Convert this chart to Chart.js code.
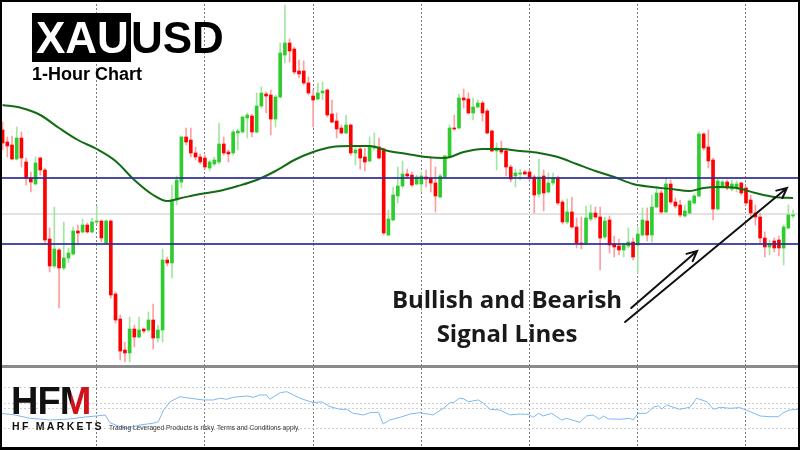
<!DOCTYPE html>
<html>
<head>
<meta charset="utf-8">
<script src="https://cdn.jsdelivr.net/npm/chart.js@4.4.1/dist/chart.umd.min.js"></script>
<style>
  body { margin: 0; background: #fff; }
  #wrap { position: relative; width: 800px; height: 450px; overflow: hidden; background: #fff; font-family: "Liberation Sans", Arial, sans-serif; }
  #main { position: absolute; left: 0; top: 0; }
  #osc { position: absolute; left: 0; top: 368px; }
  #sep { position: absolute; left: 0; top: 365px; width: 800px; height: 3px; background: #8a8a8a; }
  #frame { position: absolute; left: 0; top: 0; width: 800px; height: 450px; box-sizing: border-box; border: 2px solid #000; border-bottom-width: 3px; pointer-events: none; }
  #title { position: absolute; left: 32px; top: 13px; font-weight: bold; font-size: 44px; line-height: 49px; color: #000; white-space: nowrap; }
  #title span { background: #000; color: #fff; padding: 0 2px 0 4px; display: inline-block; }
  #sub { position: absolute; left: 32px; top: 64px; font-weight: bold; font-size: 18px; color: #000; }
  #note { position: absolute; left: 380px; top: 282px; width: 254px; text-align: center; font-family: "Open Sans", sans-serif; font-weight: 700; font-size: 24px; line-height: 34px; color: #1a1a1a; }
  #logo { position: absolute; left: 11px; top: 382px; font-weight: bold; font-size: 38px; line-height: 38px; letter-spacing: -1px; color: #111; }
  #logo b { background: linear-gradient(90deg, #111 0 38%, #d0121b 38% 100%); -webkit-background-clip: text; background-clip: text; color: transparent; }
  #brand { position: absolute; left: 12px; top: 420px; font-weight: bold; font-size: 10.5px; letter-spacing: 2.3px; color: #111; }
  #risk { position: absolute; left: 109px; top: 424px; font-size: 6.6px; color: #333; }
</style>
</head>
<body>
<div id="wrap">
  <canvas id="main" width="800" height="365"></canvas>
  <div id="sep"></div>
  <canvas id="osc" width="800" height="82"></canvas>
  <div id="title"><span>XAU</span>USD</div>
  <div id="sub">1-Hour Chart</div>
  <div id="note">Bullish and Bearish<br>Signal Lines</div>
  <div id="logo">HF<b>M</b></div>
  <div id="brand">HF MARKETS</div>
  <div id="risk">Trading Leveraged Products is risky. Terms and Conditions apply.</div>
  <div id="frame"></div>
</div>
<script>
// hourly candles, price in chart units
const opens = [270,258,255,241,262,238,222,216,242,230, 161,134,150,132,142,146,169,168,175,168,
  178,179,157,179,106,81,50,47,71,63, 71,70,80,62,70,140,137,200,218,263,
  260,247,243,242,232,236,238,256,248,247, 267,268,282,284,268,294,306,305,281,303,
  345,357,351,329,329,317,304,301,307,310, 286,279,272,267,275,247,251,243,239,252,
  253,251,165,180,204,214,226,225,216,216, 223,222,217,203,223,244,272,272,302,301,
  287,293,297,289,269,249,251,249,233,224, 226,228,228,223,206,224,208,217,222,198,
  178,188,173,157,156,181,187,183,163,180, 156,154,150,154,158,155,165,179,165,193,
  207,188,216,198,195,184,187,197,204,266, 253,240,191,214,218,211,212,217,212,200,
  187,183,162,153,159,160,152,172,184];
const highs = [278,263,264,273,268,242,228,243,243,232, 172,193,152,178,152,173,175,181,177,182,
  194,180,180,180,108,85,58,83,75,83, 72,88,96,75,151,143,215,224,264,272,
  272,253,246,245,240,243,277,263,250,270, 271,284,287,286,307,313,308,310,305,357,
  395,361,353,340,339,323,310,317,318,311, 300,287,275,285,276,252,253,252,263,267,
  262,252,190,213,233,239,231,228,225,228, 230,242,233,226,245,275,285,306,311,307,
  302,300,299,291,270,257,259,251,235,231, 231,230,230,225,241,230,227,227,224,200,
  201,203,182,183,194,195,193,193,183,184, 164,161,157,172,162,173,192,192,205,213,
  210,222,220,202,200,195,200,206,268,267, 270,242,221,220,220,220,219,218,214,205,
  195,187,168,160,162,164,175,195,190];
const lows = [250,243,240,240,233,215,208,215,225,157, 128,132,92,130,137,145,155,167,167,167,
  176,158,156,102,77,40,38,38,53,62, 67,68,51,58,58,134,122,195,212,255,
  243,240,236,231,229,234,236,245,238,245, 250,267,262,263,267,292,287,265,273,302,
  337,338,326,322,315,305,273,300,300,283, 277,262,266,266,245,235,231,229,238,250,
  241,165,164,179,197,212,222,213,215,208, 213,208,188,202,222,243,270,271,292,286,
  280,292,279,266,248,230,246,224,218,213, 220,225,220,187,203,189,207,215,195,176,
  176,172,152,151,155,179,181,130,161,147, 143,145,143,152,140,127,164,159,158,192,
  186,187,196,192,183,183,186,196,203,250, 232,180,190,212,210,209,208,205,195,182,
  175,157,143,145,148,144,135,171,182];
const closes = [257,254,241,262,242,222,218,237,230,160, 134,151,132,142,147,169,167,175,168,178,
  179,162,179,105,80,49,47,71,63,70, 69,80,62,70,140,137,200,220,263,258,
  247,243,238,233,238,240,256,247,246,268, 269,283,285,268,294,307,304,281,303,347,
  357,349,328,326,317,307,300,307,309,285, 278,271,267,275,247,250,242,238,253,254,
  242,167,181,205,214,226,224,215,223,224, 221,217,204,224,244,272,271,302,300,287,
  293,297,287,267,249,252,248,233,221,227, 227,226,222,205,223,207,217,222,197,178,
  188,173,157,156,182,187,183,162,179,155, 153,150,155,158,143,166,180,165,193,207,
  188,216,198,194,185,189,199,204,266,252, 239,191,219,218,212,216,216,207,197,187,
  183,162,153,156,152,152,173,185,185];

// moving average sampled at candle index
const maIdx = [0,4,8,12,16,20,24,28,32,35,38,42,46,50,54,58,62,66,70,74,78,82,86,90,94,98,102,106,110,114,118,122,126,130,134,138,142,146,149,152,156,160,164,168];
const maVal = [295,292,285,272,260,251,239,220,205,199,202,206,209,214,220,229,240,248,253,254,254,249,246,243,242,248,251,251,249,247,243,236,229,223,216,213,211,209,212,213,212,207,203,202];

// signal levels
const signalLevels = [222, 156];
const midLevel = 186;

// first candle of each trading day
const dayStarts = [20, 43, 66, 89, 112, 135, 158];

// oscillator panel
const oscIdx = [-0.5,2.6,5.8,10.1,14.3,17.5,20.0,21.8,22.8,25.0,26.4,29.2,32.0,33.1,34.2,35.6,37.7,39.8,42.7,44.8,
  46.2,47.6,49.0,51.9,53.3,54.7,56.1,56.8,59.0,60.4,61.8,63.2,66.0,67.8,69.6,71.7,73.1,74.5,76.7,78.1,
  79.9,80.9,82.3,84.5,86.6,88.7,91.5,93.7,95.1,95.8,97.1,97.9,99.0,101.1,102.2,103.6,105.7,107.8,109.9,111.7,
  112.8,113.9,114.9,116.7,118.8,119.9,122.7,124.1,125.5,126.8,127.7,128.7,131.2,133.3,134.0,135.1,136.9,138.3,139.4,140.1,
  141.1,143.9,146.1,147.5,149.7,151.1,152.5,154.6,156.7,158.9,161.0,163.1,164.9,165.9,167.3,169.5];
const oscVal = [45.3,43.7,40.4,38.8,39.8,41.7,42.7,43.7,36.1,32.2,30.7,33.9,35.6,37.1,48.5,56.6,61.5,60.0,58.3,58.3,
  60.0,59.0,60.9,62.2,60.9,63.2,63.2,59.0,65.4,66.4,63.2,60.0,55.7,56.6,51.8,49.2,49.2,45.3,43.7,45.9,
  46.3,34.9,38.8,41.4,44.6,45.9,43.7,50.2,55.7,55.7,60.0,59.6,56.6,58.3,55.1,49.2,48.5,43.7,44.6,44.3,
  41.4,45.3,42.7,45.3,38.8,40.4,36.5,42.7,43.7,39.5,42.7,39.8,39.5,40.4,38.8,45.3,45.3,51.2,52.7,49.5,
  53.4,49.2,51.2,60.0,56.6,49.2,51.2,50.2,50.8,46.9,42.7,42.0,42.0,45.9,48.5,49.5];
const oscLevels = [70, 55, 50, 30];

// annotation arrows (candle index, price)
const arrowFrom = [[132.3, 78], [133.6, 92]];
const arrowTo = [[166.7, 212], [147.6, 149]];

const X_MIN = -0.553, X_MAX = 169.48;

const idx = opens.map((_, i) => i);
const isUp = idx.map(i => closes[i] >= opens[i]);

const xScale = {
  type: 'linear', min: X_MIN, max: X_MAX, offset: false,
  afterBuildTicks: s => { s.ticks = dayStarts.map(v => ({ value: v })); },
  afterFit: s => { s.height = 0; },
  ticks: { display: false },
  grid: { color: '#7a7a7a', lineWidth: 1, drawTicks: false, offset: false },
  border: { display: false, dash: [2, 2] }
};

const arrowPlugin = {
  id: 'arrows',
  afterDatasetsDraw(chart) {
    const { ctx, scales: { x, y } } = chart;
    ctx.save();
    ctx.strokeStyle = '#111';
    ctx.lineWidth = 2;
    ctx.lineCap = 'round';
    arrowFrom.forEach((a, k) => {
      const x1 = x.getPixelForValue(a[0]), y1 = y.getPixelForValue(a[1]);
      const x2 = x.getPixelForValue(arrowTo[k][0]), y2 = y.getPixelForValue(arrowTo[k][1]);
      const ang = Math.atan2(y2 - y1, x2 - x1);
      ctx.beginPath();
      ctx.moveTo(x1, y1);
      ctx.lineTo(x2, y2);
      ctx.moveTo(x2 - 11 * Math.cos(ang - 0.45), y2 - 11 * Math.sin(ang - 0.45));
      ctx.lineTo(x2, y2);
      ctx.lineTo(x2 - 11 * Math.cos(ang + 0.45), y2 - 11 * Math.sin(ang + 0.45));
      ctx.stroke();
    });
    ctx.restore();
  }
};

new Chart(document.getElementById('main').getContext('2d'), {
  type: 'bar',
  data: {
    datasets: [
      ...signalLevels.map(v => ({
        type: 'line', order: 0,
        data: [{ x: X_MIN, y: v }, { x: X_MAX, y: v }],
        borderColor: 'rgba(45,45,150,0.85)', borderWidth: 2, pointRadius: 0
      })),
      {
        type: 'line', order: 1,
        data: maIdx.map((v, k) => ({ x: v, y: maVal[k] })),
        borderColor: '#136b13', borderWidth: 2, pointRadius: 0,
        cubicInterpolationMode: 'monotone'
      },
      {
        order: 2, grouped: false, barThickness: 3, minBarLength: 1,
        data: idx.map(i => ({ x: i, y: [opens[i], closes[i]] })),
        backgroundColor: idx.map(i => isUp[i] ? '#2ecc2e' : '#ff0000'),
        borderWidth: 0
      },
      {
        order: 3, grouped: false, barThickness: 1,
        data: idx.map(i => ({ x: i, y: [lows[i], highs[i]] })),
        backgroundColor: idx.map(i => isUp[i] ? '#a2e6a2' : '#ff9e9e'),
        borderWidth: 0
      },
      {
        type: 'line', order: 4,
        data: [{ x: X_MIN, y: midLevel }, { x: X_MAX, y: midLevel }],
        borderColor: '#e2e2e2', borderWidth: 2, pointRadius: 0
      }
    ]
  },
  options: {
    responsive: false, animation: false, events: [],
    layout: { padding: 0 },
    plugins: { legend: { display: false }, tooltip: { enabled: false } },
    scales: {
      x: xScale,
      y: { min: 35, max: 400, display: false }
    }
  },
  plugins: [arrowPlugin]
});

new Chart(document.getElementById('osc').getContext('2d'), {
  type: 'line',
  data: {
    datasets: [{
      data: oscIdx.map((v, k) => ({ x: v, y: oscVal[k] })),
      borderColor: '#7db8f2', borderWidth: 1, pointRadius: 0
    }]
  },
  options: {
    responsive: false, animation: false, events: [],
    layout: { padding: 0 },
    plugins: { legend: { display: false }, tooltip: { enabled: false } },
    scales: {
      x: xScale,
      y: {
        min: 9.5, max: 89.5,
        afterBuildTicks: s => { s.ticks = oscLevels.map(v => ({ value: v })); },
        afterFit: s => { s.width = 0; },
        ticks: { display: false },
        grid: { color: '#cfcfcf', drawTicks: false },
        border: { display: false, dash: [2, 2] }
      }
    }
  }
});
</script>
</body>
</html>
